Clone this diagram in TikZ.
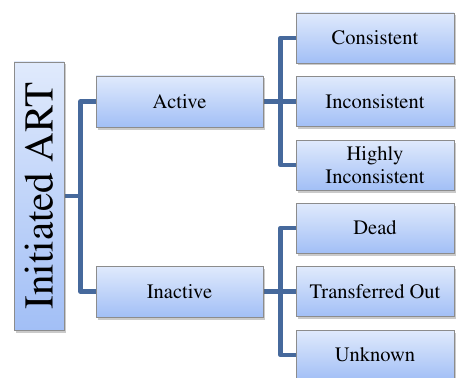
\documentclass[tikz,border=0pt]{standalone}
\usepackage[T1]{fontenc}
\usepackage{times}
\usetikzlibrary{shadows}
\pgfdeclarelayer{bg}
\pgfsetlayers{bg,main}
\definecolor{gtop}{HTML}{E0EAFC}
\definecolor{gbot}{HTML}{A2BFF6}
\definecolor{conn}{HTML}{46699C}
\definecolor{bord}{HTML}{8C8C8C}
\tikzset{
  box/.style={draw=bord, line width=0.8pt, top color=gtop, bottom color=gbot,
    inner sep=0pt, align=center,
    drop shadow={shadow xshift=1.5pt, shadow yshift=-2.5pt, opacity=0.35, fill=black!60},
    font=\rmfamily\fontsize{20.5}{23.5}\selectfont},
  midbox/.style={box, minimum width=167pt, minimum height=51pt},
  leafbox/.style={box, minimum width=158pt, minimum height=50pt},
  link/.style={draw=conn, line width=4.5pt, line join=round, line cap=round}
}
\begin{document}
\begin{tikzpicture}[x=1pt,y=-1pt]
\useasboundingbox (0,0) rectangle (457,377);
\clip (0,0) rectangle (457,377);
\node[box, minimum width=268pt, minimum height=50pt, rotate=90,
  font=\rmfamily\fontsize{41}{45}\selectfont] (root) at (39,196) {Initiated ART};
\node[midbox] (act) at (179.5,101.5) {Active};
\node[midbox] (inact) at (179.5,291.5) {Inactive};
\node[leafbox] (c1) at (375,38) {Consistent};
\node[leafbox] (c2) at (375,101.5) {Inconsistent};
\node[leafbox] (c3) at (375,165) {Highly\\Inconsistent};
\node[leafbox] (d1) at (375,228) {Dead};
\node[leafbox] (d2) at (375,291.5) {Transferred Out};
\node[leafbox] (d3) at (375,355) {Unknown};
\begin{pgfonlayer}{bg}
\draw[link] (root.south) -- ++(16,0) coordinate (rj) |- (act.west);
\draw[link] (rj) |- (inact.west);
\draw[link] (act.east) -- ++(17,0) coordinate (aj) |- (c1.west);
\draw[link] (aj) -- (c2.west);
\draw[link] (aj) |- (c3.west);
\draw[link] (inact.east) -- ++(17,0) coordinate (ij) |- (d1.west);
\draw[link] (ij) -- (d2.west);
\draw[link] (ij) |- (d3.west);
\end{pgfonlayer}
\end{tikzpicture}
\end{document}
